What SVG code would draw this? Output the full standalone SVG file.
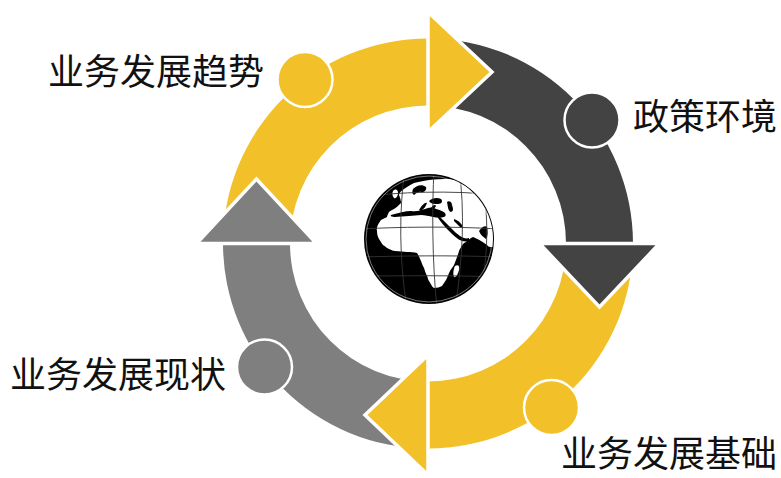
<svg xmlns="http://www.w3.org/2000/svg" width="781" height="478" viewBox="0 0 781 478">
  <style>
    .yellow { fill: #F2C12A; }
    .dark { fill: #434343; }
    .gray { fill: #7F7F7F; }
    .head { stroke: #FFFFFF; stroke-width: 3.5; stroke-linejoin: miter; }
    .dot { stroke: #FFFFFF; stroke-width: 2.5; }
    .label { font-family: "Noto Sans CJK SC", "Noto Sans", sans-serif; font-size: 36px; fill: #111111; }
    .land { fill: #FFFFFF; }
    .sea { fill: #000000; }
    .grid { fill: none; stroke: #333333; stroke-width: 0.9; }
  </style>
  <defs>
    <clipPath id="globeClip">
      <circle cx="0" cy="0" r="64"/>
    </clipPath>
  </defs>

  <rect width="781" height="478" fill="#FFFFFF"/>

  <!-- ring bands and arrowheads (cycle, centre 428,243.5) -->
  <g id="connectors">
    <path class="yellow" d="M 223 243.5 A 205 205 0 0 1 428 38.5 L 428 105.5 A 138 138 0 0 0 290 243.5 Z"/>
    <path class="dark" d="M 428 38.5 A 205 205 0 0 1 633 243.5 L 566 243.5 A 138 138 0 0 0 428 105.5 Z"/>
    <path class="yellow" d="M 633 243.5 A 205 205 0 0 1 428 448.5 L 428 381.5 A 138 138 0 0 0 566 243.5 Z"/>
    <path class="gray" d="M 428 448.5 A 205 205 0 0 1 223 243.5 L 290 243.5 A 138 138 0 0 0 428 381.5 Z"/>

    <polygon class="yellow head" points="428,12 492,72 428,132"/>
    <polygon class="dark head" points="539.5,243.5 659.5,243.5 599.5,307"/>
    <polygon class="yellow head" points="428,355 428,475 365,415"/>
    <polygon class="gray head" points="316.5,243.5 196.5,243.5 256.5,179"/>
  </g>

  <!-- stage nodes -->
  <g id="node-trend">
    <circle class="yellow dot" cx="305" cy="79.5" r="27.5"/>
    <text class="label" x="48" y="85">业务发展趋势</text>
  </g>
  <g id="node-policy">
    <circle class="dark dot" cx="592" cy="120" r="27.5"/>
    <text class="label" x="633" y="130">政策环境</text>
  </g>
  <g id="node-base">
    <circle class="yellow dot" cx="551.5" cy="407.5" r="27.5"/>
    <text class="label" x="561" y="467">业务发展基础</text>
  </g>
  <g id="node-status">
    <circle class="gray dot" cx="264.5" cy="367" r="27.5"/>
    <text class="label" x="10" y="388">业务发展现状</text>
  </g>

  <!-- globe in the centre: Europe, Africa and western Asia -->
  <g id="globe" transform="translate(429,239)">
    <circle cx="0" cy="0" r="65" fill="#000000"/>
    <g clip-path="url(#globeClip)">
      <!-- continents as one land mass -->
      <path class="land" d="M -48 -19 C -51 -15 -53 -11 -52 -8 C -52 -4 -51 -2 -50 0 C -48 3 -47 5 -46 6 C -43 8 -42 9 -40 10 C -37 11 -36 12 -34 12 C -29 12 -26 13 -22 13 C -18 13 -15 13 -12 14 C -10 17 -9 20 -8 22 C -7 25 -6 27 -5 29 C -4 32 -3 35 -2 37 C -1 39 -1 41 0 42 C 2 45 3 48 5 49 C 8 49 11 48 13 47 C 15 44 17 41 18 39 C 19 36 20 34 21 32 C 22 30 24 28 25 26 C 27 21 29 16 30 12 C 31 9 33 7 34 5 C 35 4 37 3 38 2 C 40 0 42 -1 44 -2 C 47 -1 50 1 52 2 C 55 4 57 5 58 6 C 59 7 60 8 61 8 L 72 8 L 72 -30 C 66 -30 64 -30 62 -30 C 60 -36 58 -41 55 -45 C 51 -49 46 -52 40 -55 C 34 -57 27 -59 20 -60 C 13 -60 6 -60 0 -59 C -6 -58 -11 -57 -15 -56 C -19 -54 -22 -52 -25 -50 C -28 -48 -30 -46 -30 -44 C -29 -41 -28 -39 -28 -36 C -31 -33 -33 -31 -35 -30 C -37 -29 -39 -28 -40 -27 C -41 -25 -42 -23 -42 -22 C -44 -21 -46 -20 -48 -19 Z"/>
      <!-- British Isles -->
      <path class="land" d="M -36 -48 C -33 -51 -31 -49 -31 -46 C -31 -43 -33 -40 -35 -41 C -37 -43 -37 -46 -36 -48 Z"/>
      <!-- Madagascar -->
      <path class="land" d="M 26 27 C 29 25 31 27 30 31 C 29 35 27 39 25 38 C 24 36 24 31 26 27 Z"/>
      <!-- Mediterranean -->
      <path class="sea" d="M -38 -24 C -30 -26 -24 -28 -18 -28 C -12 -27 -8 -29 -4 -30 C 0 -32 4 -32 7 -30 C 11 -29 14 -28 16 -26 C 17 -24 17 -23 15 -22 C 12 -21 8 -21 4 -22 C 0 -23 -4 -24 -8 -24 C -12 -24 -16 -23 -20 -23 C -25 -23 -30 -22 -34 -22 C -37 -22 -39 -23 -38 -24 Z"/>
      <!-- Adriatic / Aegean -->
      <path class="sea" d="M -10 -29 C -7 -34 -4 -37 -2 -36 C -3 -33 -5 -30 -8 -28 Z"/>
      <path class="sea" d="M 2 -31 C 4 -34 6 -35 7 -33 C 6 -31 5 -30 3 -30 Z"/>
      <!-- Black Sea -->
      <path class="sea" d="M 0 -38 C 3 -41 8 -42 12 -40 C 14 -38 13 -35 9 -35 C 5 -35 2 -35 0 -38 Z"/>
      <!-- Caspian -->
      <path class="sea" d="M 18 -37 C 20 -39 23 -37 23 -34 C 24 -31 25 -28 22 -27 C 19 -28 19 -32 18 -37 Z"/>
      <!-- Baltic -->
      <path class="sea" d="M -16 -50 C -12 -54 -7 -55 -3 -52 C -2 -49 -5 -46 -8 -47 C -11 -48 -13 -45 -15 -44 C -17 -45 -17 -48 -16 -50 Z"/>
      <!-- Red Sea and Gulf of Aden -->
      <path class="sea" d="M 10 -23 C 14 -19 18 -15 22 -11 C 25 -8 28 -5 31 -3 C 34 -1 37 0 40 -1 L 40 2 C 36 3 32 2 29 0 C 25 -3 22 -6 19 -9 C 15 -13 12 -17 9 -21 Z"/>
      <!-- Persian Gulf -->
      <path class="sea" d="M 25 -20 C 28 -19 31 -17 33 -14 C 34 -12 33 -11 31 -12 C 29 -14 27 -16 25 -18 Z"/>
      <!-- Arabian Sea edge of Asia -->
      <path class="sea" d="M 50 -8 C 53 -12 56 -14 58 -12 C 59 -8 59 -3 57 0 C 54 -2 51 -5 50 -8 Z"/>
      <!-- graticule -->
      <path class="grid" d="M -70 -42 C -30 -47 20 -49 70 -44"/>
      <path class="grid" d="M -70 -10 C -30 -12 20 -13 70 -10"/>
      <path class="grid" d="M -70 18 C -30 17 20 16 70 18"/>
      <path class="grid" d="M -70 37 C -30 37 20 36 70 38"/>
      <path class="grid" d="M -24 -70 C -30 -30 -30 20 -22 70"/>
      <path class="grid" d="M 5 -70 C 3 -30 3 20 8 70"/>
      <path class="grid" d="M 30 -70 C 36 -30 34 20 26 70"/>
      <path class="grid" d="M 52 -62 C 60 -30 60 20 50 60"/>
    </g>
    <circle cx="0" cy="0" r="63" fill="none" stroke="#FFFFFF" stroke-width="0.8" opacity="0.6"/>
  </g>
</svg>
